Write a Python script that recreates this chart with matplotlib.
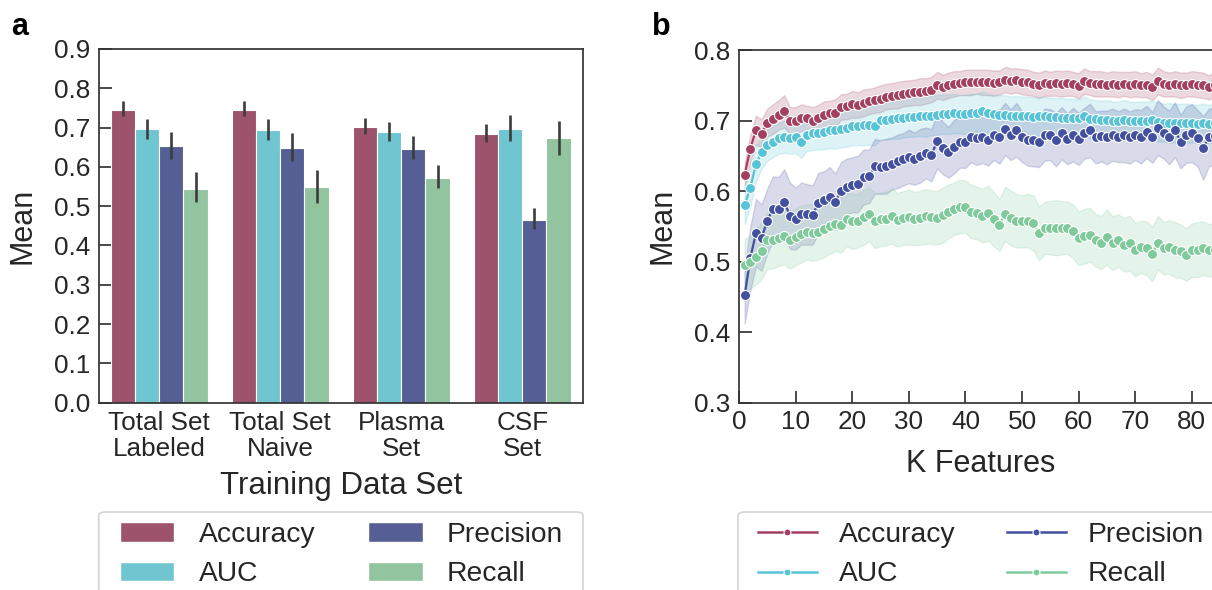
import numpy as np
import matplotlib
matplotlib.use('Agg')
import matplotlib.pyplot as plt
from matplotlib.lines import Line2D
from matplotlib.patches import Patch, FancyBboxPatch
from matplotlib.ticker import FormatStrFormatter

plt.rcParams['font.family'] = ['Liberation Sans', 'DejaVu Sans']
plt.rcParams['text.color'] = '#262626'
plt.rcParams['axes.labelcolor'] = '#262626'
plt.rcParams['xtick.color'] = '#262626'
plt.rcParams['ytick.color'] = '#262626'

# ---------------- data: panel a ----------------
groups = ['Total Set\nLabeled', 'Total Set\nNaive', 'Plasma\nSet', 'CSF\nSet']
metrics = ['Accuracy', 'AUC', 'Precision', 'Recall']

bar_mean = {
    'Accuracy':  [0.746, 0.746, 0.702, 0.683],
    'AUC':       [0.696, 0.693, 0.688, 0.697],
    'Precision': [0.654, 0.649, 0.645, 0.464],
    'Recall':    [0.545, 0.548, 0.573, 0.673],
}
bar_low = {
    'Accuracy':  [0.729, 0.729, 0.684, 0.663],
    'AUC':       [0.670, 0.668, 0.665, 0.667],
    'Precision': [0.619, 0.616, 0.619, 0.441],
    'Recall':    [0.510, 0.509, 0.546, 0.630],
}
bar_high = {
    'Accuracy':  [0.768, 0.768, 0.725, 0.708],
    'AUC':       [0.723, 0.722, 0.713, 0.732],
    'Precision': [0.690, 0.685, 0.679, 0.495],
    'Recall':    [0.586, 0.591, 0.606, 0.717],
}

# ---------------- data: panel b ----------------
k_features = list(range(1, 86))

acc = [0.623, 0.660, 0.687, 0.681, 0.697, 0.702, 0.708, 0.713, 0.700, 0.700,
       0.704, 0.703, 0.700, 0.704, 0.708, 0.710, 0.711, 0.719, 0.720, 0.723,
       0.722, 0.725, 0.727, 0.729, 0.731, 0.734, 0.735, 0.736, 0.738, 0.739,
       0.740, 0.741, 0.742, 0.744, 0.750, 0.747, 0.750, 0.752, 0.753, 0.754,
       0.754, 0.755, 0.754, 0.754, 0.753, 0.754, 0.758, 0.756, 0.757, 0.755,
       0.754, 0.752, 0.750, 0.753, 0.752, 0.753, 0.752, 0.753, 0.752, 0.749,
       0.756, 0.753, 0.752, 0.752, 0.751, 0.752, 0.751, 0.752, 0.751, 0.752,
       0.750, 0.751, 0.747, 0.756, 0.752, 0.751, 0.752, 0.750, 0.751, 0.752,
       0.751, 0.750, 0.747, 0.751, 0.750]
auc = [0.580, 0.605, 0.638, 0.656, 0.665, 0.670, 0.675, 0.677, 0.675, 0.676,
       0.670, 0.680, 0.682, 0.683, 0.684, 0.686, 0.686, 0.688, 0.690, 0.692,
       0.692, 0.693, 0.694, 0.692, 0.701, 0.701, 0.702, 0.703, 0.704, 0.705,
       0.705, 0.706, 0.706, 0.707, 0.708, 0.709, 0.709, 0.710, 0.709, 0.709,
       0.710, 0.711, 0.713, 0.710, 0.709, 0.708, 0.708, 0.707, 0.707, 0.706,
       0.707, 0.705, 0.706, 0.706, 0.705, 0.705, 0.704, 0.704, 0.703, 0.703,
       0.707, 0.702, 0.702, 0.701, 0.701, 0.700, 0.700, 0.701, 0.700, 0.699,
       0.699, 0.700, 0.701, 0.698, 0.697, 0.697, 0.696, 0.697, 0.696, 0.696,
       0.695, 0.696, 0.695, 0.697, 0.696]
prec = [0.452, 0.505, 0.541, 0.534, 0.558, 0.575, 0.575, 0.585, 0.565, 0.561,
        0.568, 0.567, 0.566, 0.583, 0.587, 0.592, 0.585, 0.600, 0.606, 0.609,
        0.610, 0.620, 0.621, 0.635, 0.634, 0.635, 0.639, 0.642, 0.645, 0.649,
        0.646, 0.650, 0.654, 0.651, 0.671, 0.661, 0.655, 0.663, 0.669, 0.670,
        0.677, 0.675, 0.676, 0.673, 0.680, 0.677, 0.688, 0.680, 0.687, 0.677,
        0.673, 0.673, 0.670, 0.680, 0.680, 0.673, 0.682, 0.674, 0.680, 0.674,
        0.682, 0.686, 0.676, 0.678, 0.676, 0.680, 0.677, 0.679, 0.676, 0.680,
        0.677, 0.684, 0.676, 0.690, 0.683, 0.676, 0.687, 0.670, 0.680, 0.682,
        0.675, 0.661, 0.676, 0.678, 0.674]
rec = [0.495, 0.499, 0.507, 0.515, 0.530, 0.531, 0.534, 0.536, 0.531, 0.535,
       0.539, 0.542, 0.541, 0.542, 0.546, 0.550, 0.553, 0.552, 0.560, 0.557,
       0.558, 0.563, 0.567, 0.558, 0.560, 0.561, 0.565, 0.559, 0.562, 0.563,
       0.561, 0.562, 0.564, 0.563, 0.562, 0.566, 0.571, 0.575, 0.578, 0.578,
       0.571, 0.569, 0.565, 0.569, 0.560, 0.552, 0.568, 0.562, 0.558, 0.557,
       0.558, 0.555, 0.540, 0.548, 0.548, 0.548, 0.548, 0.548, 0.543, 0.533,
       0.536, 0.538, 0.530, 0.527, 0.535, 0.526, 0.530, 0.524, 0.526, 0.517,
       0.521, 0.519, 0.511, 0.527, 0.519, 0.521, 0.517, 0.515, 0.510, 0.516,
       0.517, 0.519, 0.516, 0.517, 0.518]

# half width of the confidence band
acc_ci = [0.017, 0.020, 0.020, 0.021, 0.020, 0.021, 0.021, 0.023, 0.019, 0.019,
          0.019, 0.018, 0.019, 0.018, 0.019, 0.018, 0.019, 0.018, 0.018, 0.019,
          0.018, 0.019, 0.018, 0.018, 0.019, 0.018, 0.018, 0.019, 0.018, 0.018,
          0.018, 0.019, 0.018, 0.018, 0.019, 0.018, 0.018, 0.018, 0.017, 0.018,
          0.018, 0.017, 0.018, 0.018, 0.018, 0.017, 0.018, 0.018, 0.017, 0.018,
          0.018, 0.017, 0.018, 0.018, 0.017, 0.018, 0.018, 0.018, 0.017, 0.018,
          0.018, 0.017, 0.018, 0.018, 0.017, 0.018, 0.018, 0.017, 0.018, 0.018,
          0.017, 0.018, 0.018, 0.019, 0.018, 0.017, 0.018, 0.018, 0.017, 0.018,
          0.018, 0.018, 0.017, 0.018, 0.018]
auc_ci = [0.027, 0.026, 0.025, 0.024, 0.022, 0.022, 0.022, 0.023, 0.022, 0.022,
          0.023, 0.023, 0.024, 0.024, 0.025, 0.025, 0.026, 0.026, 0.027, 0.027,
          0.027, 0.028, 0.028, 0.027, 0.028, 0.028, 0.028, 0.029, 0.028, 0.028,
          0.028, 0.028, 0.029, 0.028, 0.028, 0.028, 0.028, 0.028, 0.027, 0.028,
          0.028, 0.027, 0.028, 0.028, 0.027, 0.028, 0.028, 0.027, 0.028, 0.028,
          0.027, 0.028, 0.027, 0.028, 0.027, 0.027, 0.028, 0.027, 0.028, 0.027,
          0.027, 0.028, 0.027, 0.027, 0.028, 0.027, 0.027, 0.028, 0.027, 0.027,
          0.028, 0.027, 0.027, 0.028, 0.027, 0.028, 0.027, 0.027, 0.028, 0.027,
          0.027, 0.028, 0.027, 0.027, 0.028]
prec_ci = [0.040, 0.045, 0.048, 0.047, 0.046, 0.046, 0.045, 0.046, 0.047, 0.044,
           0.044, 0.043, 0.042, 0.043, 0.041, 0.042, 0.040, 0.041, 0.040, 0.039,
           0.040, 0.039, 0.038, 0.039, 0.038, 0.039, 0.037, 0.038, 0.037, 0.038,
           0.037, 0.038, 0.036, 0.037, 0.039, 0.037, 0.036, 0.038, 0.036, 0.037,
           0.036, 0.038, 0.036, 0.037, 0.036, 0.038, 0.037, 0.036, 0.038, 0.036,
           0.037, 0.038, 0.036, 0.037, 0.036, 0.038, 0.037, 0.036, 0.038, 0.037,
           0.036, 0.038, 0.037, 0.036, 0.038, 0.037, 0.036, 0.038, 0.037, 0.036,
           0.038, 0.037, 0.036, 0.039, 0.037, 0.038, 0.039, 0.038, 0.040, 0.041,
           0.040, 0.045, 0.041, 0.040, 0.040]
rec_ci = [0.037, 0.038, 0.039, 0.040, 0.040, 0.041, 0.040, 0.040, 0.041, 0.040,
          0.040, 0.039, 0.040, 0.039, 0.040, 0.039, 0.038, 0.039, 0.038, 0.039,
          0.038, 0.039, 0.038, 0.039, 0.038, 0.038, 0.039, 0.038, 0.038, 0.039,
          0.038, 0.038, 0.039, 0.038, 0.038, 0.039, 0.038, 0.037, 0.038, 0.037,
          0.038, 0.037, 0.038, 0.039, 0.038, 0.037, 0.038, 0.039, 0.038, 0.037,
          0.038, 0.039, 0.038, 0.037, 0.038, 0.039, 0.038, 0.037, 0.038, 0.038,
          0.039, 0.038, 0.037, 0.038, 0.039, 0.038, 0.037, 0.038, 0.039, 0.038,
          0.037, 0.038, 0.039, 0.038, 0.037, 0.038, 0.039, 0.038, 0.037, 0.038,
          0.039, 0.038, 0.037, 0.038, 0.038]

bar_colors = {'Accuracy': '#9c536b', 'AUC': '#6fc6d0',
              'Precision': '#565f94', 'Recall': '#91c49f'}
line_colors = {'Accuracy': '#a3405f', 'AUC': '#56c4d6',
               'Precision': '#434f9f', 'Recall': '#7fca9b'}

W, H = 1212, 590
fig = plt.figure(figsize=(W / 100, H / 100), dpi=100)

spine_col = '#333333'


def style_axes(ax):
    for s in ax.spines.values():
        s.set_color(spine_col)
        s.set_linewidth(1.25)
    ax.tick_params(axis='both', labelsize=18.8, direction='in', length=9,
                   width=1.25, color=spine_col, pad=6)
    ax.yaxis.set_major_formatter(FormatStrFormatter('%.1f'))


# ---------------- panel a ----------------
ax1 = fig.add_axes([98.7 / W, (H - 402.7) / H, 484 / W, 353.7 / H])
x = np.arange(len(groups))
bw = 0.2
for i, m in enumerate(metrics):
    mean = np.array(bar_mean[m])
    err = [mean - np.array(bar_low[m]), np.array(bar_high[m]) - mean]
    ax1.bar(x - 0.3 + i * bw, mean, width=bw, color=bar_colors[m],
            edgecolor='white', linewidth=0.8, zorder=2)
    ax1.errorbar(x - 0.3 + i * bw, mean, yerr=err, fmt='none',
                 ecolor='#3c3c3c', elinewidth=1.9, capsize=0, zorder=3)
ax1.set_xlim(-0.5, 3.5)
ax1.set_ylim(0, 0.9)
ax1.set_yticks(np.arange(0, 0.95, 0.1))
ax1.set_xticks(x)
ax1.set_xticklabels(groups, linespacing=1.12)
style_axes(ax1)
ax1.tick_params(axis='x', length=0, pad=6)
ax1.tick_params(right=False, top=False)
ax1.set_ylabel('Mean', fontsize=22)
ax1.yaxis.set_label_coords(-0.126, 0.5)
ax1.set_xlabel('Training Data Set', fontsize=22.5)
ax1.xaxis.set_label_coords(0.5, -0.192)

# ---------------- panel b ----------------
ax2 = fig.add_axes([739 / W, (H - 402.7) / H, 484 / W, 352.7 / H])
series = [('Accuracy', acc, acc_ci), ('AUC', auc, auc_ci),
          ('Precision', prec, prec_ci), ('Recall', rec, rec_ci)]
for name, vals, ci in series:
    vals = np.array(vals)
    ci = np.array(ci)
    c = line_colors[name]
    ax2.fill_between(k_features, vals - ci, vals + ci, color=c, alpha=0.2,
                     linewidth=1, zorder=1)
for name, vals, ci in series:
    ax2.plot(k_features, vals, color=line_colors[name], lw=1.6, marker='o',
             ms=7.2, mec='white', mew=0.8, zorder=2)
ax2.set_xlim(0, 85.5)
ax2.set_ylim(0.3, 0.8)
ax2.set_xticks(np.arange(0, 90, 10))
ax2.set_yticks(np.arange(0.3, 0.85, 0.1))
style_axes(ax2)
ax2.tick_params(axis='x', pad=5)
ax2.set_ylabel('Mean', fontsize=22)
ax2.yaxis.set_label_coords(-0.127, 0.5)
ax2.set_xlabel('K Features', fontsize=22)
ax2.xaxis.set_label_coords(0.5, -0.13)

# ---------------- panel letters ----------------
fig.text(11 / W, 1 - 35 / H, 'a', fontsize=22, fontweight='bold',
         color='black', va='baseline')
fig.text(652 / W, 1 - 35 / H, 'b', fontsize=22, fontweight='bold',
         color='black', va='baseline')

# ---------------- legends ----------------
for x0, x1 in [(98.7, 583), (738, 1300)]:
    box = FancyBboxPatch((x0 / W, -0.2), (x1 - x0) / W, 0.2 + (H - 512) / H,
                         boxstyle='round,pad=0,rounding_size=0.006',
                         transform=fig.transFigure, facecolor='white',
                         edgecolor='#d4d4d4', linewidth=1.2)
    fig.add_artist(box)

bar_handles = [Patch(facecolor=bar_colors[m], edgecolor='white') for m in metrics]
fig.legend(bar_handles, metrics, loc='upper left', ncol=2, mode='expand',
           bbox_to_anchor=(110 / W, 1 - 512 / H, 463 / W, 0),
           bbox_transform=fig.transFigure, frameon=False, fontsize=20.3,
           borderpad=0.35, borderaxespad=0, handlelength=1.93,
           handletextpad=0.86, labelspacing=0.48)

line_handles = [Line2D([0], [0], color=line_colors[m], lw=1.8, marker='o',
                       ms=5, mec='white', mew=0.8) for m in metrics]
fig.legend(line_handles, metrics, loc='upper left', ncol=2, mode='expand',
           bbox_to_anchor=(748 / W, 1 - 512 / H, 466 / W, 0),
           bbox_transform=fig.transFigure, frameon=False, fontsize=20.3,
           borderpad=0.35, borderaxespad=0, handlelength=2.1,
           handletextpad=0.78, labelspacing=0.48)

fig.savefig('out.png', dpi=100)
